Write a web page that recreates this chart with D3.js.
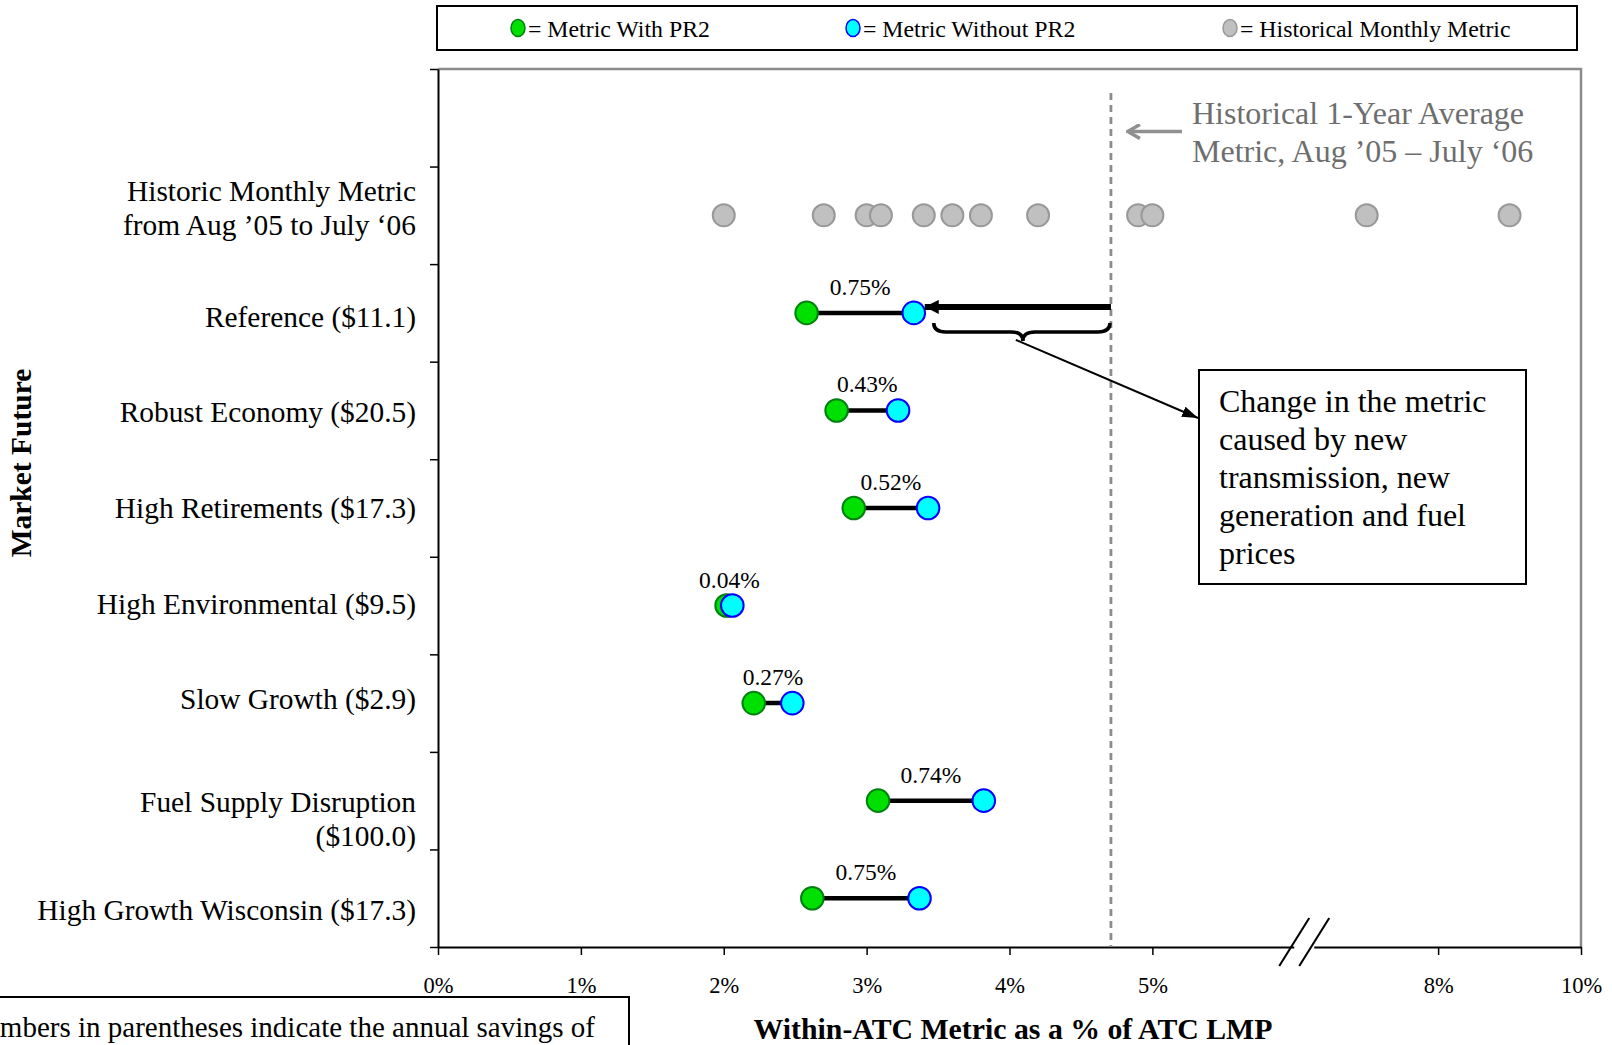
<!DOCTYPE html>
<html><head><meta charset="utf-8">
<script src="https://cdn.jsdelivr.net/npm/d3@7/dist/d3.min.js"></script>
<style>
body{margin:0;background:#fff}
svg{display:block}
text{font-family:"Liberation Serif","Times New Roman",Times,serif}
</style>
</head><body>
<svg id="chart" width="1612" height="1045"></svg>
<script>
// ---------------- DATA ----------------
const historicRowLabel = ["Historic Monthly Metric", "from Aug ’05 to July ‘06"];
const scenarios = [
  ["Reference ($11.1)"],
  ["Robust Economy ($20.5)"],
  ["High Retirements ($17.3)"],
  ["High Environmental ($9.5)"],
  ["Slow Growth ($2.9)"],
  ["Fuel Supply Disruption", "($100.0)"],
  ["High Growth Wisconsin ($17.3)"]
];
const metricWithPR2    = [2.58, 2.79, 2.91, 2.02, 2.21, 3.08, 2.62];
const metricWithoutPR2 = [3.33, 3.22, 3.43, 2.06, 2.48, 3.82, 3.37];
const changeLabels     = ["0.75%", "0.43%", "0.52%", "0.04%", "0.27%", "0.74%", "0.75%"];
const historicalMonthly = [2.0, 2.7, 3.0, 3.1, 3.4, 3.6, 3.8, 4.2, 4.9, 5.0, 7.25, 9.0];
const historicalAverage = 4.71;
const xTickValues = [0, 1, 2, 3, 4, 5, 8, 10];
const legendLabels = ["= Metric With PR2", "= Metric Without PR2", "= Historical Monthly Metric"];
const avgNote = ["Historical 1-Year Average", "Metric, Aug ’05 – July ‘06"];
const boxNote = ["Change in the metric", "caused by new", "transmission, new", "generation and fuel", "prices"];
const footNote = "Numbers in parentheses indicate the annual savings of";
const xTitle = "Within-ATC Metric as a % of ATC LMP";
const yTitle = "Market Future";

// ---------------- LAYOUT ----------------
const L = 438, R = 1581, T = 69, B = 947;
const slotW = (R - L) / 8;
const labelDy = [-25, 4, 1, 0, -2, -4, 1, 11]; // first-line centre offset per row
const COL = {green:"#00e000", greenS:"#00800f", cyan:"#00ffff", cyanS:"#0000ff",
             gray:"#c0c0c0", grayS:"#999999"};

const svg = d3.select("#chart");
const defs = svg.append("defs");
defs.append("marker").attr("id","bigHead").attr("viewBox","0 0 14 14")
  .attr("refX",14).attr("refY",7).attr("markerWidth",14).attr("markerHeight",14)
  .attr("markerUnits","userSpaceOnUse").attr("orient","auto")
  .append("path").attr("d","M0,0 L14,7 L0,14 Z").attr("fill","#000");
defs.append("marker").attr("id","thinHead").attr("viewBox","0 0 16 11")
  .attr("refX",16).attr("refY",5.5).attr("markerWidth",16).attr("markerHeight",11)
  .attr("markerUnits","userSpaceOnUse").attr("orient","auto")
  .append("path").attr("d","M0,0 L16,5.5 L0,11 Z").attr("fill","#000");
defs.append("marker").attr("id","grayHead").attr("viewBox","0 0 16 16")
  .attr("refX",14).attr("refY",8).attr("markerWidth",16).attr("markerHeight",16)
  .attr("markerUnits","userSpaceOnUse").attr("orient","auto")
  .append("path").attr("d","M2,1 L14,8 L2,15").attr("fill","none").attr("stroke","#909090")
  .attr("stroke-width",3.5).attr("stroke-linejoin","miter");

// scales
const x = d3.scaleLinear().domain([0, 5, 8, 10]).range([L, L + 5*slotW, L + 7*slotW, R]);
const rowKeys = ["", "hist", ...scenarios.map((s,i)=>"s"+i)];
const y = d3.scaleBand().domain(rowKeys).range([T, B]);
const yc = k => y(k) + y.bandwidth()/2;

// ---------------- LEGEND ----------------
const leg = svg.append("g");
leg.append("rect").attr("x",437).attr("y",6).attr("width",1140).attr("height",44)
  .attr("fill","none").attr("stroke","#000").attr("stroke-width",2);
const legItems = [
  {fill:COL.green, stroke:COL.greenS, cx:518},
  {fill:COL.cyan, stroke:COL.cyanS, cx:853},
  {fill:COL.gray, stroke:COL.grayS, cx:1230}
];
legItems.forEach((it,i)=>{
  leg.append("ellipse").attr("cx",it.cx).attr("cy",28).attr("rx",7).attr("ry",8.5)
    .attr("fill",it.fill).attr("stroke",it.stroke).attr("stroke-width",1.5);
  leg.append("text").attr("x",it.cx+10).attr("y",37).attr("font-size",23.8).text(legendLabels[i]);
});

// ---------------- AXES / FRAME ----------------
svg.append("path").attr("d",`M${L},${T}H${R}V${B}`).attr("fill","none")
  .attr("stroke","#8c8c8c").attr("stroke-width",2.5);

const xAxis = svg.append("g").attr("transform",`translate(0,${B})`)
  .call(d3.axisBottom(x).tickValues(xTickValues).tickFormat(d=>d+"%")
        .tickSize(8).tickSizeOuter(0).tickPadding(22));
xAxis.select(".domain").attr("stroke","#000").attr("stroke-width",2);
xAxis.selectAll(".tick line").attr("stroke","#000").attr("stroke-width",1.5);
xAxis.selectAll(".tick text").attr("font-size",22.5).attr("fill","#000")
  .attr("font-family","Liberation Serif, Times New Roman, serif");

const yIdx = d3.scaleLinear().domain([0, rowKeys.length]).range([T, B]);
const yAxis = svg.append("g").attr("transform",`translate(${L},0)`)
  .call(d3.axisLeft(yIdx).ticks(rowKeys.length).tickFormat("").tickSize(8).tickSizeOuter(0));
yAxis.select(".domain").attr("stroke","#000").attr("stroke-width",2);
yAxis.selectAll(".tick line").attr("stroke","#000").attr("stroke-width",1.5);

// axis break marks
const bx = L + 6*slotW + 9;
svg.append("rect").attr("x",bx-10).attr("y",B-3).attr("width",20).attr("height",6).attr("fill","#fff");
[-10, 10].forEach(o=>{
  svg.append("line").attr("x1",bx+o-15).attr("y1",B+19).attr("x2",bx+o+15).attr("y2",B-29)
    .attr("stroke","#000").attr("stroke-width",2);
});

// ---------------- ROW LABELS ----------------
const allLabels = [historicRowLabel, ...scenarios];
allLabels.forEach((lines,i)=>{
  const cy = yc(rowKeys[i+1]) + labelDy[i];
  const t = svg.append("text").attr("text-anchor","end").attr("font-size",29.4);
  lines.forEach((ln,j)=>{
    t.append("tspan").attr("x",416).attr("y",cy + j*34).attr("dy","0.35em").text(ln);
  });
});

svg.append("text").attr("transform",`translate(31,463) rotate(-90)`)
  .attr("text-anchor","middle").attr("font-size",29.5).attr("font-weight","bold").text(yTitle);

svg.append("text").attr("x",1013).attr("y",1039).attr("text-anchor","middle")
  .attr("font-size",29.8).attr("font-weight","bold").text(xTitle);

// ---------------- AVERAGE LINE & NOTE ----------------
svg.append("line").attr("x1",x(historicalAverage)).attr("x2",x(historicalAverage))
  .attr("y1",93).attr("y2",B).attr("stroke","#8c8c8c").attr("stroke-width",2.8)
  .attr("stroke-dasharray","7,5");
svg.append("line").attr("x1",x(historicalAverage)+71).attr("x2",x(historicalAverage)+17)
  .attr("y1",131.5).attr("y2",131.5).attr("stroke","#909090").attr("stroke-width",3.5)
  .attr("marker-end","url(#grayHead)");
const an = svg.append("text").attr("font-size",32).attr("fill","#6e6e6e");
avgNote.forEach((ln,j)=>an.append("tspan").attr("x",1192).attr("y",124 + j*38).text(ln));

// ---------------- HISTORICAL DOTS ----------------
svg.append("g").selectAll("circle").data(historicalMonthly).join("circle")
  .attr("cx",d=>x(d)).attr("cy",yc("hist")).attr("r",11)
  .attr("fill",COL.gray).attr("stroke",COL.grayS).attr("stroke-width",2);

// ---------------- SCENARIO DUMBBELLS ----------------
const g = svg.append("g");
scenarios.forEach((s,i)=>{
  const cy = yc(rowKeys[i+2]);
  const a = metricWithPR2[i], b = metricWithoutPR2[i];
  g.append("line").attr("x1",x(a)).attr("x2",x(b)).attr("y1",cy).attr("y2",cy)
    .attr("stroke","#000").attr("stroke-width",4.5);
  g.append("circle").attr("cx",x(a)).attr("cy",cy).attr("r",11.3)
    .attr("fill",COL.green).attr("stroke",COL.greenS).attr("stroke-width",2);
  g.append("circle").attr("cx",x(b)).attr("cy",cy).attr("r",11.3)
    .attr("fill",COL.cyan).attr("stroke",COL.cyanS).attr("stroke-width",2);
  g.append("text").attr("x",(x(a)+x(b))/2).attr("y",cy-18).attr("text-anchor","middle")
    .attr("font-size",23.5).text(changeLabels[i]);
});

// ---------------- CHANGE ANNOTATION ----------------
const refY = yc("s0");
const xAvg = x(historicalAverage), xRef = x(metricWithoutPR2[0]);
svg.append("line").attr("x1",xAvg).attr("x2",xRef+11).attr("y1",refY-6).attr("y2",refY-6)
  .attr("stroke","#000").attr("stroke-width",6).attr("marker-end","url(#bigHead)");
const x1 = xRef + 20, x2 = xAvg - 1, xm = (x1+x2)/2 + 1;
const y0 = refY + 10, y1 = refY + 19, y2 = refY + 28;
svg.append("path")
  .attr("d",`M${x1},${y0} Q${x1},${y1} ${x1+12},${y1} L${xm-12},${y1} Q${xm},${y1} ${xm},${y2} Q${xm},${y1} ${xm+12},${y1} L${x2-12},${y1} Q${x2},${y1} ${x2},${y0}`)
  .attr("fill","none").attr("stroke","#000").attr("stroke-width",3.5);
const boxX = 1199, boxY = 370, boxW = 327, boxH = 214;
svg.append("line").attr("x1",xm-7).attr("y1",y2-1).attr("x2",boxX-1).attr("y2",boxY+48)
  .attr("stroke","#000").attr("stroke-width",2).attr("marker-end","url(#thinHead)");
svg.append("rect").attr("x",boxX).attr("y",boxY).attr("width",boxW).attr("height",boxH)
  .attr("fill","#fff").attr("stroke","#000").attr("stroke-width",2);
const bt = svg.append("text").attr("font-size",32);
boxNote.forEach((ln,j)=>bt.append("tspan").attr("x",boxX+20).attr("y",boxY+42+j*38).text(ln));

// ---------------- FOOTNOTE BOX ----------------
svg.append("rect").attr("x",-10).attr("y",997).attr("width",639).attr("height",80)
  .attr("fill","none").attr("stroke","#000").attr("stroke-width",2);
svg.append("text").attr("x",595).attr("y",1037).attr("text-anchor","end")
  .attr("font-size",29).text(footNote);
</script>
</body></html>
